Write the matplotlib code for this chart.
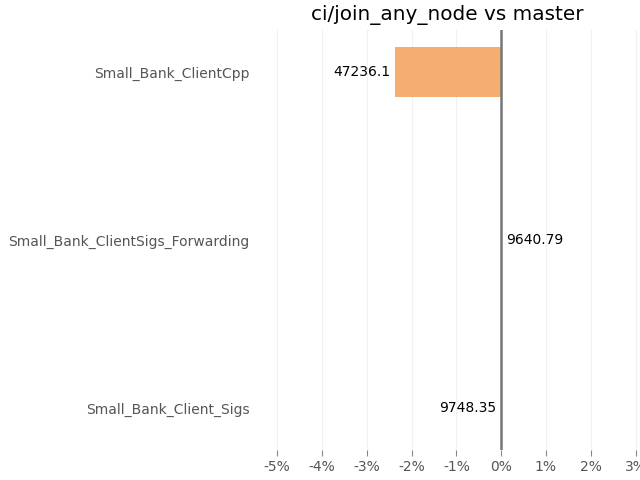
import matplotlib.pyplot as plt
from matplotlib.ticker import FuncFormatter

categories = ["Small_Bank_Client_Sigs", "Small_Bank_ClientSigs_Forwarding", "Small_Bank_ClientCpp"]
pct_change = [-0.01, 0.01, -2.37]
values = [9748.35, 9640.79, 47236.1]
title = "ci/join_any_node vs master"

fig = plt.figure(figsize=(6.4, 4.8), dpi=100)
ax = fig.add_axes([0.398, 0.0625, 0.602, 0.875])

ypos = list(range(len(categories)))
ax.barh(ypos, pct_change, height=0.3, color="#f5ae70", zorder=2)
ax.axvline(0, color="#777777", linewidth=1.8, zorder=3)

for y, p, v in zip(ypos, pct_change, values):
    if p < 0:
        ax.text(p - 0.1, y, f"{v}", ha="right", va="center", fontsize=10, color="black")
    else:
        ax.text(p + 0.1, y, f"{v}", ha="left", va="center", fontsize=10, color="black")

ax.set_yticks(ypos)
ax.set_yticklabels(categories)
ax.set_ylim(-0.25, 2.25)
ax.set_xlim(-5.5, 3.1)
ax.set_xticks(range(-5, 4))
ax.xaxis.set_major_formatter(FuncFormatter(lambda x, _: f"{int(x)}%"))
ax.grid(axis="x", color="#f0f0f0", linewidth=0.8, zorder=0)
ax.set_axisbelow(True)
for s in ax.spines.values():
    s.set_visible(False)
ax.tick_params(axis="y", length=0, labelsize=10, labelcolor="#555555")
ax.tick_params(axis="x", length=4, color="#888888", labelsize=10, labelcolor="#555555")
ax.set_title(title, fontsize=14.4, pad=7)

fig.savefig("out.png")
